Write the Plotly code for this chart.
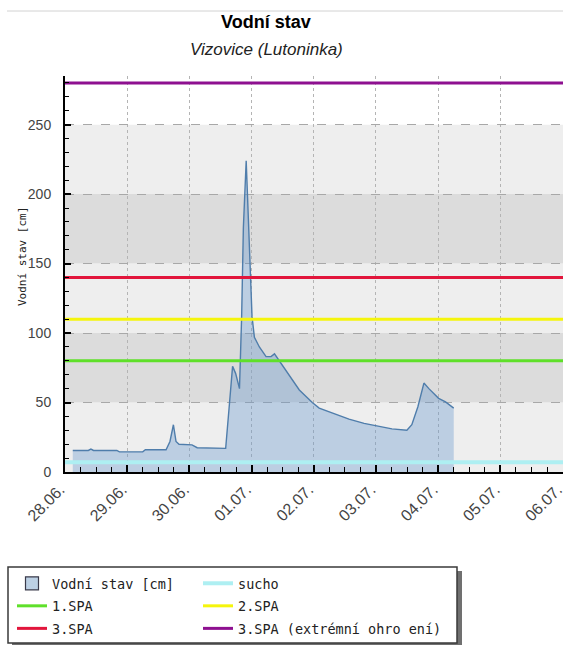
import plotly.graph_objects as go

# ---------------- data ----------------
times = [
    "2010-06-28 03:00", "2010-06-28 09:00", "2010-06-28 10:00", "2010-06-28 11:00",
    "2010-06-28 20:00", "2010-06-28 21:00", "2010-06-29 06:00", "2010-06-29 07:00",
    "2010-06-29 15:00", "2010-06-29 16:30", "2010-06-29 17:50", "2010-06-29 18:50",
    "2010-06-29 20:00", "2010-06-30 01:00", "2010-06-30 03:00", "2010-06-30 14:00",
    "2010-06-30 15:30", "2010-06-30 16:40", "2010-06-30 17:50", "2010-06-30 19:20",
    "2010-06-30 20:10", "2010-06-30 20:50", "2010-06-30 21:55", "2010-06-30 22:20",
    "2010-06-30 22:55", "2010-06-30 23:25", "2010-07-01 00:10", "2010-07-01 01:05",
    "2010-07-01 03:00", "2010-07-01 05:35", "2010-07-01 07:30", "2010-07-01 08:50",
    "2010-07-01 10:40", "2010-07-01 14:30", "2010-07-01 18:25", "2010-07-01 23:25",
    "2010-07-02 02:05", "2010-07-02 07:50", "2010-07-02 13:35", "2010-07-02 19:25",
    "2010-07-03 01:10", "2010-07-03 06:10", "2010-07-03 11:55", "2010-07-03 13:50",
    "2010-07-03 16:10", "2010-07-03 18:30", "2010-07-03 20:25", "2010-07-04 00:10",
    "2010-07-04 02:50", "2010-07-04 06:00",
]
water_level = [
    15.5, 15.5, 16.5, 15.5,
    15.5, 14.5, 14.5, 16,
    16, 22, 34, 22,
    20, 19.5, 17.5, 17,
    50, 76, 71, 60,
    112, 176, 224, 203,
    167, 138, 112, 97,
    90, 83, 83, 85,
    80, 69, 59, 50,
    46, 42, 38, 35,
    33, 31, 30, 34,
    47, 64, 60, 53,
    50.5, 46,
]

x_range = ["2010-06-28 00:00", "2010-07-06 00:10"]
y_range = [0, 285]

level_names = ["sucho", "1.SPA", "2.SPA", "3.SPA", "3.SPA (extrémní ohro ení)"]
level_values = [7, 80, 110, 140, 280]
level_colors = ["#aeeff2", "#5fe02a", "#f5f50c", "#e2163c", "#8e1090"]
level_widths = [4, 3, 3, 3, 3]
level_legend = ["legend2", "legend", "legend2", "legend", "legend2"]

band_edges = [0, 50, 100, 150, 200, 250]
band_colors = ["#eeeeee", "#dcdcdc", "#eeeeee", "#dcdcdc", "#eeeeee"]

series_name = "Vodní stav [cm]"
title_text = "Vodní stav"
subtitle_text = "Vizovice (Lutoninka)"

# ---------------- figure ----------------
W, H = 563, 645
L, R, T, B = 65, 0, 76, 173
PW, PH = W - L - R, H - T - B


def px(xp):
    return (xp - L) / PW


def py(yp):
    return (H - B - yp) / PH


fig = go.Figure()

fig.add_trace(go.Scatter(
    x=times, y=water_level, mode="lines", fill="tozeroy",
    fillcolor="rgba(100,150,205,0.36)",
    line=dict(color="#4f7dab", width=1.4),
    name=series_name, showlegend=False, hoverinfo="x+y",
))

# legend proxy for the area series (square symbol)
fig.add_trace(go.Scatter(
    x=[None], y=[None], mode="markers", name=series_name,
    marker=dict(symbol="square", size=13, color="#bcd0e4",
                line=dict(color="#3a3a4a", width=1.2)),
    legend="legend", legendgroup="a", legendrank=1,
))

ranks = {"sucho": 1, "1.SPA": 2, "2.SPA": 2, "3.SPA": 3, "3.SPA (extrémní ohro ení)": 3}
for nm, v, c, w, lg in zip(level_names, level_values, level_colors, level_widths, level_legend):
    fig.add_trace(go.Scatter(
        x=x_range, y=[v, v], mode="lines", name=nm,
        line=dict(color=c, width=w),
        legend=lg, legendgroup=nm, legendrank=ranks[nm],
    ))

shapes = []
for y0, y1, c in zip(band_edges[:-1], band_edges[1:], band_colors):
    shapes.append(dict(type="rect", xref="paper", yref="y", x0=0, x1=1, y0=y0, y1=y1,
                       fillcolor=c, line=dict(width=0), layer="below"))
# thin top rule
shapes.append(dict(type="line", xref="paper", yref="paper", x0=px(7), x1=px(563),
                   y0=py(11), y1=py(11), line=dict(color="#d2d2d2", width=1)))
# legend box shadow + box
shapes.append(dict(type="rect", xref="paper", yref="paper", x0=px(12), x1=px(462),
                   y0=py(571), y1=py(652), fillcolor="#707070", line=dict(width=0)))
shapes.append(dict(type="rect", xref="paper", yref="paper", x0=px(8), x1=px(457),
                   y0=py(567), y1=py(643), fillcolor="white",
                   line=dict(color="#3a3a3a", width=1.5)))

annotations = [
    dict(text="<b>" + title_text + "</b>", xref="paper", yref="paper", x=px(266), y=py(22),
         showarrow=False, xanchor="center", yanchor="middle",
         font=dict(family="Liberation Sans, Arial", size=18, color="black")),
    dict(text="<i>" + subtitle_text + "</i>", xref="paper", yref="paper", x=px(266), y=py(50),
         showarrow=False, xanchor="center", yanchor="middle",
         font=dict(family="Liberation Sans, Arial", size=17, color="#222")),
    dict(text=series_name, xref="paper", yref="paper", x=px(22), y=py(257),
         showarrow=False, textangle=-90, xanchor="center", yanchor="middle",
         font=dict(family="DejaVu Sans Mono", size=11, color="#222")),
]

legend_common = dict(
    bgcolor="rgba(0,0,0,0)", borderwidth=0, orientation="v",
    xanchor="left", yanchor="top", tracegroupgap=2,
    font=dict(family="DejaVu Sans Mono", size=13.5, color="#222"),
)

fig.update_layout(
    width=W, height=H,
    margin=dict(l=L, r=R, t=T, b=B, autoexpand=False),
    paper_bgcolor="white", plot_bgcolor="white",
    shapes=shapes, annotations=annotations,
    showlegend=True,
    legend=dict(x=px(12), y=py(568), **legend_common),
    legend2=dict(x=px(198), y=py(568), **legend_common),
    hovermode="closest",
)

fig.update_xaxes(
    type="date", range=x_range, dtick=86400000, tick0="2010-06-28",
    tickformat="%d.%m.", tickangle=-45,
    ticks="inside", ticklen=7, tickwidth=1.5, tickcolor="black",
    showline=True, linecolor="black", linewidth=2,
    showgrid=True, gridcolor="#b4b4b4", griddash="dot", gridwidth=1,
    minor=dict(dtick=21600000, ticks="inside", ticklen=5, tickwidth=1.2,
               tickcolor="black", showgrid=False),
    tickfont=dict(family="Liberation Sans, Arial", size=16, color="#444"),
    zeroline=False, ticklabeloverflow="allow", ticklabelshift=-5,
)
fig.update_yaxes(
    range=y_range, dtick=50, tick0=0,
    ticks="inside", ticklen=6, tickwidth=1.5, tickcolor="black",
    showline=True, linecolor="black", linewidth=2,
    showgrid=True, gridcolor="#a8a8a8", griddash="dash", gridwidth=1,
    minor=dict(dtick=10, ticks="inside", ticklen=4, tickwidth=1.2,
               tickcolor="black", showgrid=False),
    tickfont=dict(family="Liberation Sans, Arial", size=14, color="#444"),
    zeroline=False, ticklabelstandoff=9,
)

fig.write_html("out.html", config={"displayModeBar": False},
               post_script="document.body.style.margin='0';")
